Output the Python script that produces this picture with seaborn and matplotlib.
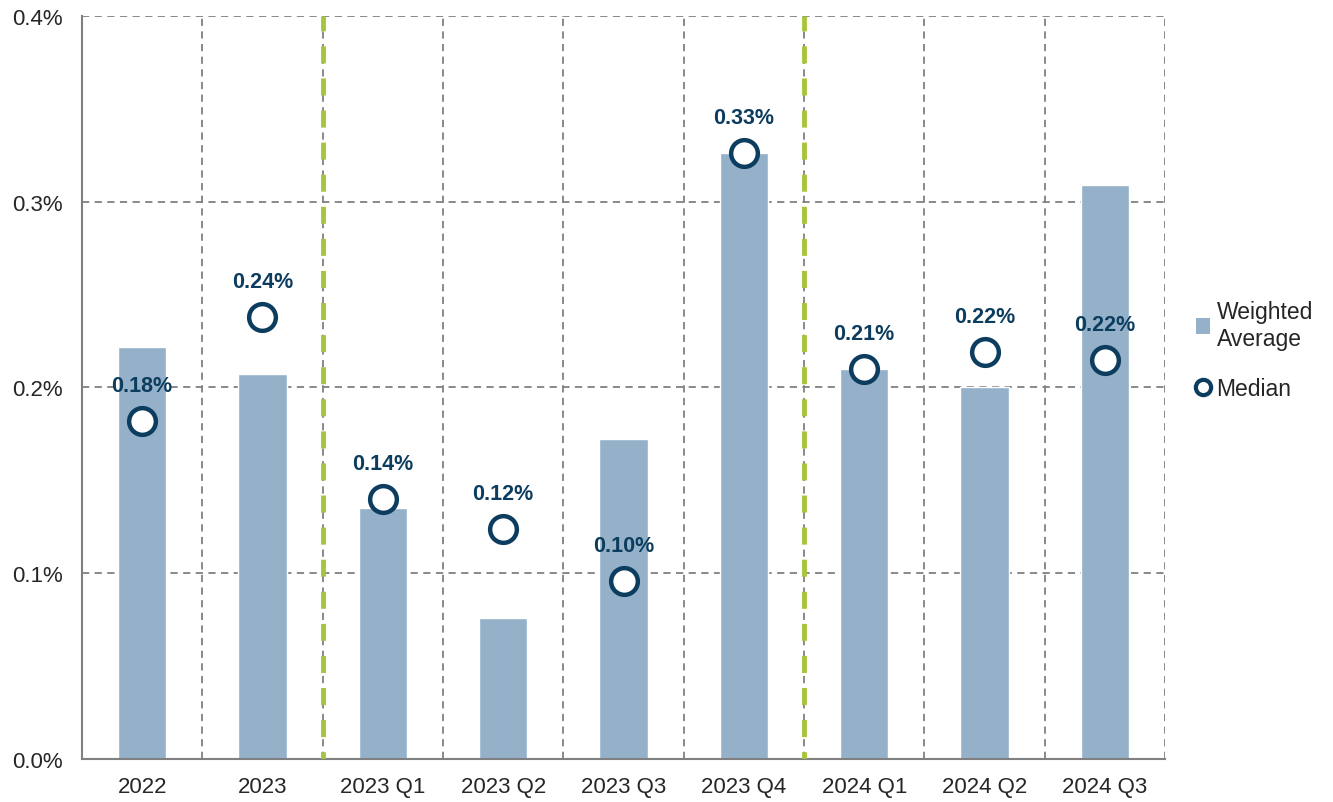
import numpy as np
import pandas as pd
import seaborn as sns
import matplotlib.pyplot as plt
from matplotlib.lines import Line2D
from matplotlib.patches import Patch
from matplotlib.ticker import FixedLocator

categories = ['2022', '2023', '2023 Q1', '2023 Q2', '2023 Q3', '2023 Q4',
              '2024 Q1', '2024 Q2', '2024 Q3']
weighted_avg = [0.222, 0.207, 0.135, 0.076, 0.172, 0.326, 0.210, 0.200, 0.309]
median = [0.182, 0.238, 0.140, 0.124, 0.096, 0.326, 0.210, 0.219, 0.215]
median_labels = ['0.18%', '0.24%', '0.14%', '0.12%', '0.10%', '0.33%',
                 '0.21%', '0.22%', '0.22%']
yticks = [0.0, 0.1, 0.2, 0.3, 0.4]
ytick_labels = ['0.0%', '0.1%', '0.2%', '0.3%', '0.4%']
period_breaks = [1.5, 5.5]

bar_color = '#94b1c9'
navy = '#0c3d5f'
grid_color = '#808080'
green = '#a8c43c'

sns.set_style('white')
plt.rcParams['font.family'] = ['Liberation Sans', 'DejaVu Sans']

df = pd.DataFrame({'period': categories, 'weighted': weighted_avg, 'median': median})

fig = plt.figure(figsize=(13.33, 8.03), dpi=100)
ax = fig.add_axes([0.0615, 0.0535, 0.8125, 0.9255])

sns.barplot(data=df, x='period', y='weighted', color=bar_color, width=0.4,
            saturation=1, ax=ax, zorder=2)

pos = np.arange(len(categories))
ax.scatter(pos, df['median'], s=370, facecolor='white', edgecolor=navy,
           linewidth=3.2, zorder=4)
for x, y, lab in zip(pos, median, median_labels):
    ax.annotate(lab, (x, y), xytext=(0, 18), textcoords='offset points',
                ha='center', va='bottom', fontsize=15.5, fontweight='bold',
                color=navy, zorder=5)

ax.set_xlim(-0.5, len(categories) - 0.5)
ax.set_ylim(0, 0.4)
ax.set_yticks(yticks)
ax.set_yticklabels(ytick_labels)

# grid
for y in yticks[1:]:
    ax.axhline(y, color=grid_color, lw=1.3, ls=(0, (4, 3)), zorder=1)
for b in np.arange(0.5, len(categories), 1.0):
    ax.axvline(b, color=grid_color, lw=1.3, ls=(0, (4, 3)), zorder=1)
for b in period_breaks:
    ax.axvline(b, color=green, lw=3.5, ls=(2, (3.5, 3.1)), zorder=3)

ax.xaxis.set_minor_locator(FixedLocator(np.arange(-0.5, len(categories), 1.0)))
ax.tick_params(axis='x', which='major', length=0, pad=12, labelsize=16)
ax.tick_params(axis='x', which='minor', length=7, width=1.3, color=grid_color)
ax.tick_params(axis='y', length=7, width=1.3, color=grid_color, labelsize=16, pad=7)
ax.set_xlabel('')
ax.set_ylabel('')

for side in ['top', 'right']:
    ax.spines[side].set_visible(False)
for side in ['left', 'bottom']:
    ax.spines[side].set_color(grid_color)
    ax.spines[side].set_linewidth(1.5)

handles = [
    Patch(facecolor=bar_color, edgecolor='none'),
    Line2D([], [], marker='o', ls='none', markersize=11, markerfacecolor='white',
           markeredgecolor=navy, markeredgewidth=3),
]
ax.legend(handles, ['Weighted\nAverage', 'Median'], loc='upper left',
          bbox_to_anchor=(1.02, 0.63), frameon=False, fontsize=16.5,
          handlelength=0.6, handletextpad=0.3, labelspacing=1.2,
          borderaxespad=0)

fig.savefig('out.png', dpi=100)
